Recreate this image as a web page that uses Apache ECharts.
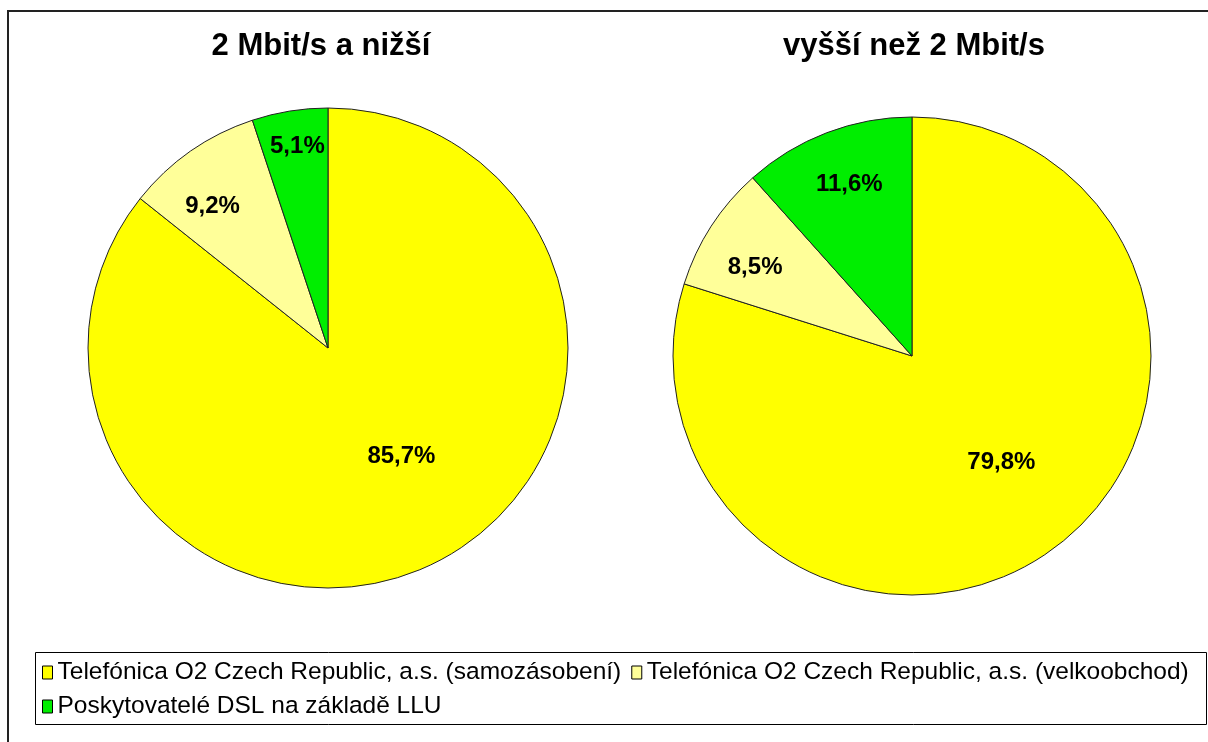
<!DOCTYPE html>
<html>
<head>
<meta charset="utf-8">
<script src="https://cdn.jsdelivr.net/npm/echarts@6/dist/echarts.min.js"></script>
<style>
html, body { margin: 0; padding: 0; background: #fff; }
#chart { width: 1208px; height: 742px; }
</style>
</head>
<body>
<div id="chart"></div>
<script>
const categories = [
  'Telefónica O2 Czech Republic, a.s. (samozásobení)',
  'Telefónica O2 Czech Republic, a.s. (velkoobchod)',
  'Poskytovatelé DSL na základě LLU'
];
const pieTitles = ['2 Mbit/s a nižší', 'vyšší než 2 Mbit/s'];
const lowSpeed = [85.7, 9.2, 5.1];
const highSpeed = [79.8, 8.5, 11.6];

const font = "'Liberation Sans', Arial, sans-serif";
const sliceColors = ['#ffff00', '#ffff99', '#00ee00'];

// pie placement + label nudges (Excel puts the labels off the mid radius)
const pies = [
  { title: pieTitles[0], values: lowSpeed, center: [328, 348], radius: 240, titleX: 321,
    shift: [[20, -2], [-45, -41], [-11, -80]] },
  { title: pieTitles[1], values: highSpeed, center: [912, 356], radius: 239, titleX: 914,
    shift: [[17, 8], [-54, -22], [-19, -57]] }
];

const legendStyle = {
  left: 42,
  padding: 0,
  itemGap: 10,
  itemWidth: 10,
  itemHeight: 13,
  icon: 'rect',
  itemStyle: { borderColor: '#000', borderWidth: 1 },
  textStyle: { fontFamily: font, fontSize: 24.5, color: '#000' }
};

const chart = echarts.init(document.getElementById('chart'));

chart.setOption({
  backgroundColor: '#fff',
  animation: false,
  title: pies.map(p => ({
    text: p.title,
    left: p.titleX,
    top: 31,
    textAlign: 'center',
    padding: 0,
    textStyle: { fontFamily: font, fontSize: 31, fontWeight: 'bold', color: '#000' }
  })),
  legend: [
    Object.assign({ data: categories.slice(0, 2), top: 660 }, legendStyle),
    Object.assign({ data: [categories[2]], top: 694 }, legendStyle)
  ],
  graphic: [
    { type: 'rect', z: 0, silent: true,
      shape: { x: 8, y: 11, width: 1212, height: 745 },
      style: { fill: 'none', stroke: '#222', lineWidth: 2 } },
    { type: 'rect', z: 0, silent: true,
      shape: { x: 35.5, y: 652.5, width: 1171, height: 72 },
      style: { fill: '#fff', stroke: '#000', lineWidth: 1 } }
  ],
  series: pies.map(p => ({
    type: 'pie',
    center: p.center,
    radius: [0, p.radius],
    startAngle: 90,
    clockwise: true,
    avoidLabelOverlap: false,
    emphasis: { disabled: true },
    itemStyle: { borderColor: '#222', borderWidth: 1 },
    label: {
      show: true,
      position: 'inside',
      fontFamily: font,
      fontSize: 24,
      fontWeight: 'bold',
      color: '#000',
      formatter: params => String(params.value).replace('.', ',') + '%'
    },
    labelLine: { show: false },
    labelLayout: params => ({ dx: p.shift[params.dataIndex][0], dy: p.shift[params.dataIndex][1] }),
    data: categories.map((name, i) => ({
      name: name,
      value: p.values[i],
      itemStyle: { color: sliceColors[i] }
    }))
  }))
});
</script>
</body>
</html>
